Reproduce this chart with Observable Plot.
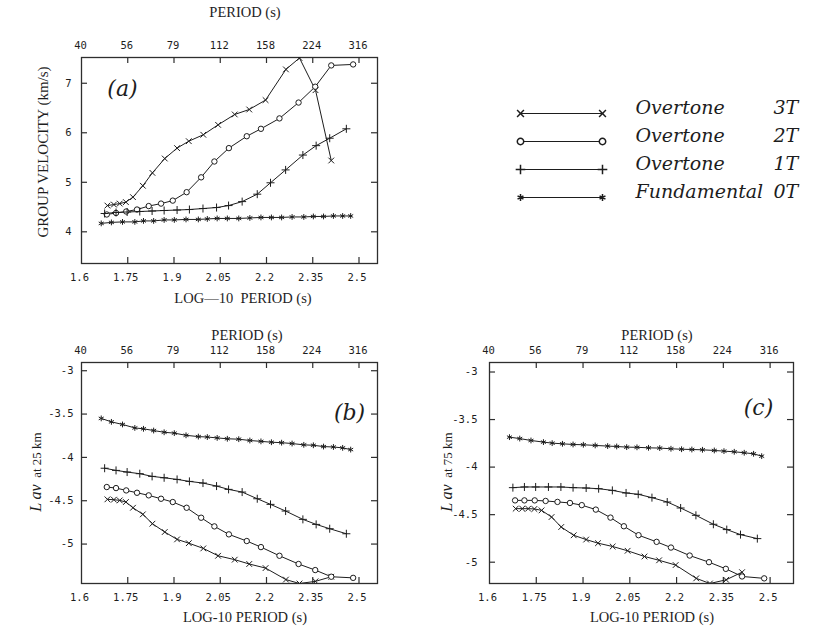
<!DOCTYPE html>
<html>
<head>
<meta charset="utf-8">
<script src="https://cdn.jsdelivr.net/npm/d3@7"></script>
<script src="https://cdn.jsdelivr.net/npm/@observablehq/plot@0.6"></script>
<style>
  body { margin: 0; background: #fff; }
  #fig { position: relative; width: 826px; height: 627px; overflow: hidden; background: #fff; }
  .svgbox { position: absolute; }
  .lbl { position: absolute; font-family: "Liberation Serif", "DejaVu Serif", serif; color: #1e1e1e;
         white-space: pre; transform: translate(-50%, -50%); line-height: 1; }
  .rot { transform: translate(-50%, -50%) rotate(-90deg); }
  .it { font-style: italic; }
</style>
</head>
<body>
<div id="fig"></div>
<script>
// ---- axis ticks (log10 of period, and the matching periods in seconds) ----
const LOG_TICKS = [1.6, 1.75, 1.9, 2.05, 2.2, 2.35, 2.5];
const LOG_LABELS = ["1.6", "1.75", "1.9", "2.05", "2.2", "2.35", "2.5"];
const PERIOD_LABELS = ["40", "56", "79", "112", "158", "224", "316"];

const U_TICKS = [4, 5, 6, 7];
const U_LABELS = ["4", "5", "6", "7"];
const L_TICKS = [-3, -3.5, -4, -4.5, -5];
const L_LABELS = ["-3", "-3.5", "-4", "-4.5", "-5"];

// ---- modes ----
const MODES = ["3T", "2T", "1T", "0T"];
const MODE_NAMES = ["Overtone", "Overtone", "Overtone", "Fundamental"];
const MODE_SYMBOLS = ["times", "circle", "plus", "asterisk"];

// ---- log10 period of the samples for each mode ----
const LOGP_0T = [1.664, 1.697, 1.733, 1.773, 1.801, 1.834, 1.868, 1.901, 1.939, 1.979, 2.008, 2.040, 2.073,
                 2.110, 2.146, 2.182, 2.216, 2.249, 2.283, 2.321, 2.352, 2.385, 2.417, 2.447, 2.473];
const LOGP_1T = [1.675, 1.712, 1.748, 1.789, 1.829, 1.868, 1.910, 1.950, 1.994, 2.038, 2.077, 2.121, 2.170,
                 2.213, 2.262, 2.318, 2.361, 2.405, 2.459];
const LOGP_2T = [1.682, 1.712, 1.745, 1.780, 1.818, 1.858, 1.896, 1.941, 1.988, 2.031, 2.078, 2.136, 2.182,
                 2.242, 2.304, 2.358, 2.410, 2.481];
const LOGP_3T = [1.684, 1.705, 1.724, 1.744, 1.767, 1.799, 1.830, 1.870, 1.910, 1.948, 1.995, 2.043, 2.097,
                 2.144, 2.197, 2.263, 2.307, 2.359, 2.410];

// ---- (a) group velocity, km/s ----
const U_0T = [4.17, 4.19, 4.20, 4.20, 4.22, 4.22, 4.24, 4.24, 4.25, 4.25, 4.26, 4.27, 4.27,
              4.27, 4.28, 4.29, 4.29, 4.29, 4.30, 4.30, 4.31, 4.31, 4.32, 4.32, 4.32];
const U_1T = [4.37, 4.39, 4.40, 4.41, 4.42, 4.43, 4.44, 4.45, 4.47, 4.49, 4.53, 4.61, 4.76,
              4.99, 5.25, 5.55, 5.74, 5.89, 6.08];
const U_2T = [4.35, 4.38, 4.41, 4.45, 4.52, 4.57, 4.63, 4.80, 5.10, 5.42, 5.69, 5.93, 6.08,
              6.29, 6.61, 6.93, 7.36, 7.38];
const U_3T = [4.53, 4.55, 4.57, 4.60, 4.70, 4.93, 5.19, 5.48, 5.69, 5.83, 5.96, 6.16, 6.37,
              6.47, 6.66, 7.28, 7.51, 6.86, 5.44];

// ---- (b) log average at 25 km ----
const L25_0T = [-3.55, -3.59, -3.62, -3.66, -3.67, -3.69, -3.71, -3.72, -3.745, -3.76, -3.765, -3.775, -3.785,
                -3.79, -3.805, -3.815, -3.825, -3.83, -3.84, -3.855, -3.86, -3.875, -3.88, -3.89, -3.91];
const L25_1T = [-4.125, -4.15, -4.169, -4.188, -4.219, -4.235, -4.254, -4.277, -4.296, -4.331, -4.369, -4.40, -4.477,
                -4.542, -4.619, -4.715, -4.773, -4.823, -4.881];
const L25_2T = [-4.342, -4.354, -4.381, -4.408, -4.438, -4.477, -4.515, -4.581, -4.696, -4.796, -4.888, -4.965, -5.035,
                -5.135, -5.23, -5.30, -5.377, -5.39];
const L25_3T = [-4.484, -4.488, -4.496, -4.515, -4.581, -4.657, -4.765, -4.861, -4.946, -4.99, -5.05, -5.135, -5.18,
                -5.23, -5.277, -5.41, -5.455, -5.43, -5.377];

// ---- (c) log average at 75 km ----
const L75_0T = [-3.685, -3.70, -3.72, -3.737, -3.748, -3.755, -3.762, -3.765, -3.772, -3.779, -3.783, -3.79, -3.792,
                -3.797, -3.80, -3.807, -3.812, -3.815, -3.818, -3.825, -3.832, -3.839, -3.849, -3.86, -3.885];
const L75_1T = [-4.216, -4.209, -4.209, -4.209, -4.209, -4.216, -4.22, -4.227, -4.245, -4.272, -4.286, -4.321, -4.367,
                -4.43, -4.507, -4.601, -4.657, -4.71, -4.752];
const L75_2T = [-4.35, -4.35, -4.35, -4.356, -4.366, -4.377, -4.40, -4.447, -4.531, -4.622, -4.716, -4.786, -4.846,
                -4.93, -5.00, -5.07, -5.15, -5.17];
const L75_3T = [-4.437, -4.437, -4.437, -4.44, -4.455, -4.525, -4.63, -4.717, -4.762, -4.80, -4.835, -4.88, -4.94,
                -4.98, -5.03, -5.17, -5.224, -5.185, -5.105];

const INK = "#1d1d1d";
const FRAME_INK = "#2e2e2e";
const TICK_FONT = "'DejaVu Sans Mono', monospace";

function rows(logp, values, mode) {
  return logp.map((x, i) => ({x, y: values[i], mode}));
}
function series(v3, v2, v1, v0) {
  return [
    ...rows(LOGP_3T, v3, "3T"),
    ...rows(LOGP_2T, v2, "2T"),
    ...rows(LOGP_1T, v1, "1T"),
    ...rows(LOGP_0T, v0, "0T")
  ];
}

function panel(o) {
  const fw = o.width - o.ml - o.mr;
  const fh = o.height - o.mt - o.mb;
  const tick = 6;
  const inner = LOG_TICKS.slice(1);
  return Plot.plot({
    width: o.width, height: o.height,
    marginLeft: o.ml, marginRight: o.mr, marginTop: o.mt, marginBottom: o.mb,
    x: {domain: o.xDomain, axis: null},
    y: {domain: o.yDomain, axis: null},
    symbol: {domain: MODES, range: MODE_SYMBOLS},
    style: {background: "transparent", overflow: "visible", color: INK},
    marks: [
      Plot.frame({stroke: FRAME_INK, strokeWidth: 1.3}),
      // inward ticks on all four sides
      Plot.ruleX(inner, {x: d => d, insetTop: fh - tick, stroke: FRAME_INK, strokeWidth: 1.2}),
      Plot.ruleX(inner, {x: d => d, insetBottom: fh - tick, stroke: FRAME_INK, strokeWidth: 1.2}),
      Plot.ruleY(o.yTicks, {y: d => d, insetRight: fw - tick, stroke: FRAME_INK, strokeWidth: 1.2}),
      Plot.ruleY(o.yTicks, {y: d => d, insetLeft: fw - tick, stroke: FRAME_INK, strokeWidth: 1.2}),
      // tick labels
      Plot.text(LOG_TICKS, {x: d => d, text: (d, i) => LOG_LABELS[i], frameAnchor: "bottom", dy: 14, dx: -2,
        lineAnchor: "middle", textAnchor: "middle", fontFamily: TICK_FONT, fontSize: 10.5, fill: INK}),
      Plot.text(LOG_TICKS, {x: d => d, text: (d, i) => PERIOD_LABELS[i], frameAnchor: "top", dy: -12, dx: -1,
        lineAnchor: "middle", textAnchor: "middle", fontFamily: TICK_FONT, fontSize: 10.5, fill: INK}),
      Plot.text(o.yTicks, {y: d => d, text: (d, i) => o.yLabels[i], frameAnchor: "left", dx: o.ylDx,
        textAnchor: "end", lineAnchor: "middle", fontFamily: TICK_FONT, fontSize: 10.5, fill: INK}),
      // curves
      Plot.line(o.data, {x: "x", y: "y", z: "mode", stroke: INK, strokeWidth: 1, clip: true}),
      Plot.dot(o.data, {x: "x", y: "y", symbol: "mode", r: 2.7, stroke: INK, strokeWidth: 1,
        fill: "white", clip: true}),
      // panel tag
      Plot.text([o.tag], {frameAnchor: o.tagAnchor, dx: o.tagDx, dy: o.tagDy, text: d => d,
        textAnchor: "middle", lineAnchor: "middle",
        fontFamily: "'DejaVu Serif', serif", fontStyle: "italic", fontSize: 22, fill: INK})
    ]
  });
}

const fig = document.getElementById("fig");
function place(node, left, top) {
  node.classList.add("svgbox");
  node.style.left = left + "px";
  node.style.top = top + "px";
  fig.appendChild(node);
}
function label(html, cx, cy, size, extra = "") {
  const d = document.createElement("div");
  d.className = "lbl " + extra;
  d.style.left = cx + "px";
  d.style.top = cy + "px";
  d.style.fontSize = size + "px";
  d.innerHTML = html;
  fig.appendChild(d);
}

// (a) group velocity
place(panel({
  data: series(U_3T, U_2T, U_1T, U_0T),
  width: 400, height: 290, ml: 81, mr: 23, mt: 57, mb: 27,
  xDomain: [1.6, 2.56], yDomain: [3.36, 7.52],
  yTicks: U_TICKS, yLabels: U_LABELS, ylDx: -10,
  tag: "(a)", tagAnchor: "top-left", tagDx: 41, tagDy: 31
}), 0, 0);

// (b) at 25 km
place(panel({
  data: series(L25_3T, L25_2T, L25_1T, L25_0T),
  width: 400, height: 280, ml: 81, mr: 23, mt: 32, mb: 27,
  xDomain: [1.6, 2.56], yDomain: [-5.455, -2.905],
  yTicks: L_TICKS, yLabels: L_LABELS, ylDx: -8,
  tag: "(b)", tagAnchor: "top-right", tagDx: -28, tagDy: 50
}), 0, 330);

// (c) at 75 km
place(panel({
  data: series(L75_3T, L75_2T, L75_1T, L75_0T),
  width: 400, height: 280, ml: 79, mr: 17, mt: 32, mb: 27,
  xDomain: [1.6, 2.575], yDomain: [-5.224, -2.90],
  yTicks: L_TICKS, yLabels: L_LABELS, ylDx: -12,
  tag: "(c)", tagAnchor: "top-right", tagDx: -35, tagDy: 45
}), 410, 330);

// legend
const legend = Plot.plot({
  width: 320, height: 160, margin: 0,
  x: {domain: [0, 320], range: [0, 320], axis: null},
  y: {type: "point", domain: MODES, range: [27, 142], axis: null},
  symbol: {domain: MODES, range: MODE_SYMBOLS},
  style: {background: "transparent", overflow: "visible", color: INK},
  marks: [
    Plot.ruleY(MODES, {y: d => d, x1: 20, x2: 102, stroke: INK, strokeWidth: 1}),
    Plot.dot(MODES, {x: 20, y: d => d, symbol: d => d, r: 3.2, stroke: INK, fill: "white"}),
    Plot.dot(MODES, {x: 102, y: d => d, symbol: d => d, r: 3.2, stroke: INK, fill: "white"}),
    Plot.text(MODES, {x: 135, y: d => d, dy: -6, text: (d, i) => MODE_NAMES[i], textAnchor: "start",
      fontFamily: "'DejaVu Serif', serif", fontStyle: "italic", fontSize: 19, fill: INK}),
    Plot.text(MODES, {x: 273, y: d => d, dy: -6, text: d => d, textAnchor: "start",
      fontFamily: "'DejaVu Serif', serif", fontStyle: "italic", fontSize: 19, fill: INK})
  ]
});
place(legend, 500, 70);

// axis titles
label("PERIOD (s)", 245, 12, 14.5);
label("LOG—10  PERIOD (s)", 243, 298, 14.5);
label("GROUP VELOCITY (km/s)", 43, 152, 15, "rot");

label("PERIOD (s)", 247, 335, 14.5);
label("LOG-10 PERIOD (s)", 245, 617, 14.5);
label("<span class='it' style='font-size:16px'>L</span> <span class='it' style='font-size:16px'>av</span>  at 25 km", 36, 472, 13, "rot");

label("PERIOD (s)", 657, 335, 14.5);
label("LOG-10 PERIOD (s)", 652, 617, 14.5);
label("<span class='it' style='font-size:16px'>L</span> <span class='it' style='font-size:16px'>av</span>  at 75 km", 447, 472, 13, "rot");
</script>
</body>
</html>
